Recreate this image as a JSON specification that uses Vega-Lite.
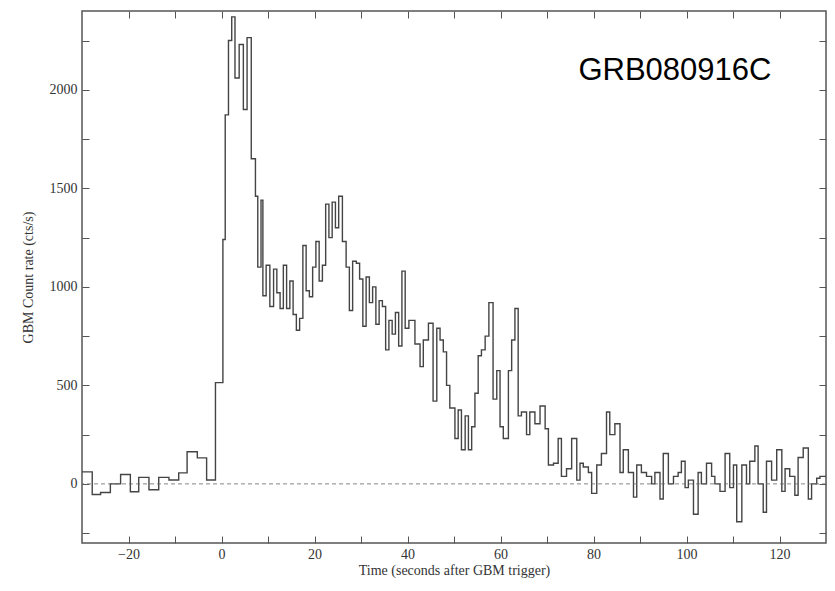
{
"$schema":"https://vega.github.io/schema/vega-lite/v6.json",
"width":744,"height":532,
"autosize":{"type":"none"},
"padding":{"left":82,"top":11,"right":9,"bottom":48},
"background":"white",
"config":{"view":{"stroke":"#555","strokeWidth":1.5},"axis":{"grid":false,"domain":false,"tickColor":"#555","tickSize":-7,"labelFont":"Liberation Serif","titleFont":"Liberation Serif","labelFontSize":14,"titleFontSize":14,"labelColor":"#333","titleColor":"#333","titleFontWeight":"normal"}},
"datasets":{"lc":[
{"t":-30.3,"r":61},{"t":-27.8,"r":-54},{"t":-26.0,"r":-44},{"t":-23.9,"r":0},{"t":-21.7,"r":48},{"t":-19.6,"r":-40},{"t":-17.8,"r":33},{"t":-15.6,"r":-30},{"t":-13.5,"r":33},{"t":-11.3,"r":20},{"t":-9.2,"r":56},{"t":-7.4,"r":163},{"t":-5.2,"r":132},{"t":-3.2,"r":20},{"t":-1.3,"r":514},
{"t":0.3,"r":1240},{"t":0.8,"r":1873},{"t":1.5,"r":2250},{"t":2.2,"r":2370},{"t":2.9,"r":2060},{"t":3.8,"r":2230},{"t":4.7,"r":1900},{"t":5.5,"r":2265},{"t":6.4,"r":1650},{"t":7.3,"r":1460},{"t":7.8,"r":1100},{"t":8.5,"r":1440},{"t":8.9,"r":955},{"t":9.6,"r":1110},{"t":10.4,"r":900},
{"t":11.2,"r":1090},{"t":11.9,"r":970},{"t":12.6,"r":890},{"t":13.3,"r":1110},{"t":14.0,"r":890},{"t":14.7,"r":1030},{"t":15.4,"r":860},{"t":16.1,"r":780},{"t":16.8,"r":840},{"t":17.5,"r":1210},{"t":18.2,"r":980},{"t":18.9,"r":950},{"t":19.6,"r":1100},{"t":20.3,"r":1230},{"t":21.0,"r":1030},{"t":21.7,"r":1110},{"t":22.4,"r":1420},{"t":23.1,"r":1250},{"t":23.8,"r":1430},{"t":24.5,"r":1300},{"t":25.2,"r":1460},{"t":26.0,"r":1230},{"t":26.8,"r":1100},{"t":27.5,"r":880},{"t":28.2,"r":1130},{"t":29.0,"r":1120},{"t":29.7,"r":1040},{"t":30.4,"r":800},{"t":31.1,"r":1050},{"t":31.8,"r":920},{"t":32.5,"r":1000},{"t":33.2,"r":810},{"t":33.9,"r":930},{"t":34.6,"r":900},{"t":35.3,"r":680},{"t":36.0,"r":830},{"t":36.7,"r":760},{"t":37.4,"r":870},{"t":38.1,"r":700},{"t":38.8,"r":1080},{"t":39.5,"r":790},{"t":40.3,"r":830},
{"t":41.6,"r":710},{"t":42.7,"r":595},{"t":43.4,"r":730},{"t":44.5,"r":815},{"t":45.5,"r":420},{"t":46.3,"r":790},{"t":47.0,"r":730},{"t":47.7,"r":670},{"t":48.4,"r":500},{"t":49.1,"r":385},{"t":50.2,"r":230},{"t":50.9,"r":375},{"t":51.6,"r":173},{"t":52.4,"r":345},{"t":53.1,"r":173},{"t":53.8,"r":290},{"t":54.5,"r":460},{"t":55.2,"r":650},{"t":55.9,"r":680},{"t":56.7,"r":750},{"t":57.5,"r":920},{"t":58.4,"r":430},{"t":59.2,"r":575},{"t":59.9,"r":290},{"t":60.6,"r":230},{"t":61.7,"r":575},{"t":62.4,"r":730},{"t":63.1,"r":890},{"t":63.8,"r":345},{"t":64.5,"r":365},{"t":65.6,"r":250},{"t":66.3,"r":365},{"t":67.4,"r":305},{"t":68.5,"r":395},{"t":69.6,"r":280},{"t":70.3,"r":96},{"t":71.4,"r":105},{"t":72.4,"r":230},{"t":73.1,"r":38},{"t":74.2,"r":77},{"t":75.3,"r":230},{"t":76.4,"r":19},{"t":77.1,"r":105},{"t":77.8,"r":86},{"t":78.9,"r":58},{"t":79.6,"r":-48},{"t":80.7,"r":96},{"t":81.7,"r":154},{"t":82.8,"r":365},{"t":83.5,"r":250},{"t":84.6,"r":305},{"t":85.7,"r":58},{"t":86.4,"r":173},{"t":87.5,"r":58},{"t":88.6,"r":-67},{"t":89.3,"r":96},{"t":90.3,"r":58},{"t":91.4,"r":38},{"t":92.5,"r":0},{"t":93.2,"r":58},{"t":94.3,"r":-77},{"t":95.0,"r":154},{"t":96.1,"r":0},{"t":97.2,"r":38},{"t":98.2,"r":58},{"t":98.9,"r":115},{"t":99.7,"r":-19},{"t":100.4,"r":19},{"t":101.5,"r":-154},{"t":102.5,"r":58},{"t":103.2,"r":0},{"t":104.3,"r":105},{"t":105.4,"r":38},{"t":106.1,"r":0},{"t":107.2,"r":-38},{"t":108.3,"r":154},{"t":109.3,"r":-19},{"t":110.1,"r":96},{"t":110.8,"r":-192},{"t":111.9,"r":96},{"t":112.9,"r":0},{"t":113.6,"r":115},{"t":114.7,"r":192},{"t":115.4,"r":0},{"t":116.5,"r":-144},{"t":117.2,"r":115},{"t":118.3,"r":19},{"t":119.4,"r":173},{"t":120.5,"r":-38},{"t":121.2,"r":77},{"t":122.2,"r":38},{"t":123.3,"r":-58},{"t":124.0,"r":134},{"t":125.1,"r":182},{"t":126.2,"r":-77},{"t":126.9,"r":0},{"t":128.0,"r":29},{"t":128.7,"r":38},{"t":130,"r":38}
]},
"layer":[
{"data":{"name":"lc"},"mark":{"type":"line","interpolate":"step-after","color":"#444","strokeWidth":1.4,"clip":true},
"encoding":{
"x":{"field":"t","type":"quantitative","scale":{"domain":[-30,130],"nice":false},"axis":{"title":"Time (seconds after GBM trigger)","values":[-20,-10,0,10,20,30,40,50,60,70,80,90,100,110,120],"labelExpr":"datum.value % 20 == 0 ? (datum.value < 0 ? '−' + abs(datum.value) : datum.label) : ''","labelPadding":11,"titlePadding":2}},
"y":{"field":"r","type":"quantitative","scale":{"domain":[-300,2400],"nice":false,"zero":false},"axis":{"title":"GBM Count rate (cts/s)","values":[-250,0,250,500,750,1000,1250,1500,1750,2000,2250],"labelExpr":"datum.value % 500 == 0 ? datum.value : ''","labelPadding":12,"titlePadding":14}}}},
{"data":{"values":[{"y":0}]},"mark":{"type":"rule","color":"#666","strokeDash":[4,3],"strokeWidth":0.8},"encoding":{"y":{"field":"y","type":"quantitative","axis":null}}},
{"data":{"values":[{"t":97.5,"r":2097,"s":"GRB080916C"}]},"mark":{"type":"text","font":"Liberation Sans","fontSize":31,"color":"black","align":"center","baseline":"middle"},
"encoding":{"text":{"field":"s"},
"x":{"field":"t","type":"quantitative","axis":{"orient":"top","labels":false,"title":null,"values":[-20,-10,0,10,20,30,40,50,60,70,80,90,100,110,120]}},
"y":{"field":"r","type":"quantitative","axis":{"orient":"right","labels":false,"title":null,"values":[-250,0,250,500,750,1000,1250,1500,1750,2000,2250]}}}}
],
"resolve":{"axis":{"x":"independent","y":"independent"}}
}
